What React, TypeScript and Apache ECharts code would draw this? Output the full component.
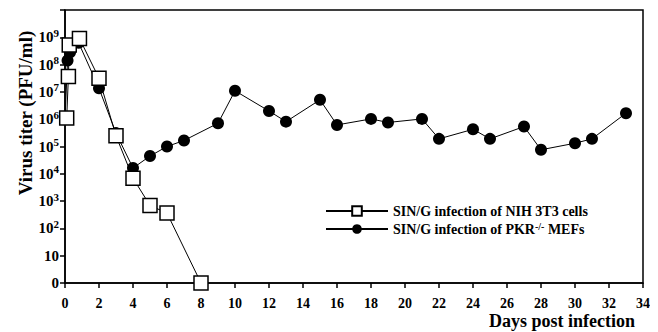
import React, { useEffect, useRef } from "react";
import * as echarts from "echarts";

// Days post infection and log10 virus titer (PFU/ml)
const nihDays = [0.1, 0.2, 0.25, 0.85, 2, 3, 4, 5, 6, 8];
const nihLog10 = [6.04, 7.56, 8.72, 8.96, 7.5, 5.39, 3.84, 2.84, 2.56, 0];

const pkrDays = [0, 0.15, 0.3, 0.8, 2, 3, 4, 5, 6, 7, 9, 10, 12, 13, 15, 16, 18, 19, 21, 22, 24, 25, 27, 28, 30, 31, 33];
const pkrLog10 = [6.0, 8.15, 8.45, 8.8, 7.13, 5.49, 4.21, 4.65, 5.0, 5.22, 5.85, 7.04, 6.3, 5.91, 6.71, 5.79, 6.01, 5.88, 6.01, 5.28, 5.63, 5.28, 5.73, 4.88, 5.12, 5.28, 6.22];

const yTickExponents = [0, 1, 2, 3, 4, 5, 6, 7, 8, 9];
const xTicks = [0, 2, 4, 6, 8, 10, 12, 14, 16, 18, 20, 22, 24, 26, 28, 30, 32, 34];

const seriesNames = ["SIN/G infection of NIH 3T3 cells", "SIN/G infection of PKR-/- MEFs"];

const FONT = "'Liberation Serif', 'Times New Roman', serif";

export default function App() {
  const ref = useRef<HTMLDivElement>(null);
  useEffect(() => {
    if (!ref.current) return;
    const chart = echarts.init(ref.current, null, { renderer: "svg" });
    const nihData = nihDays.map((d, i) => [d, nihLog10[i]]);
    const pkrData = pkrDays.map((d, i) => [d, pkrLog10[i]]);
    chart.setOption({
      animation: false,
      backgroundColor: "#fff",
      grid: {
        left: 65,
        top: 10,
        right: 15,
        bottom: 49,
        show: true,
        borderColor: "#000",
        borderWidth: 1.5,
        backgroundColor: "transparent",
      },
      xAxis: {
        type: "value",
        min: 0,
        max: 34,
        interval: 2,
        axisLine: { show: true, lineStyle: { color: "#000", width: 1.5 } },
        axisTick: { show: true, length: 5, lineStyle: { color: "#000", width: 1.5 } },
        splitLine: { show: false },
        axisLabel: {
          color: "#000",
          fontFamily: FONT,
          fontWeight: "bold",
          fontSize: 14,
          margin: 13,
          formatter: (v: number) => (xTicks.includes(v) ? String(v) : ""),
        },
      },
      yAxis: {
        type: "value",
        min: 0,
        max: 10,
        interval: 1,
        axisLine: { show: true, lineStyle: { color: "#000", width: 1.5 } },
        axisTick: { show: true, length: 5, lineStyle: { color: "#000", width: 1.5 } },
        splitLine: { show: false },
        axisLabel: {
          color: "#000",
          fontFamily: FONT,
          fontWeight: "bold",
          fontSize: 15,
          margin: 6,
          formatter: (v: number) => {
            if (!yTickExponents.includes(v)) return "";
            if (v === 0) return "{b|0}";
            if (v === 1) return "{b|10}";
            return "{b|10}{s|" + v + "}";
          },
          rich: {
            b: { fontFamily: FONT, fontWeight: "bold", fontSize: 15, color: "#000" },
            s: {
              fontFamily: FONT,
              fontWeight: "bold",
              fontSize: 11,
              color: "#000",
              verticalAlign: "bottom",
              padding: [0, 0, 9, 0],
            },
          },
        },
      },
      legend: {
        orient: "vertical",
        left: 320,
        top: 199,
        itemWidth: 62,
        itemHeight: 12,
        itemGap: 3,
        data: seriesNames,
        textStyle: {
          color: "#000",
          fontFamily: FONT,
          fontWeight: "bold",
          fontSize: 14,
          rich: {
            n: { fontFamily: FONT, fontWeight: "bold", fontSize: 14, color: "#000" },
            s: {
              fontFamily: FONT,
              fontWeight: "bold",
              fontSize: 10,
              color: "#000",
              verticalAlign: "bottom",
              padding: [0, 0, 6, 0],
            },
          },
        },
        formatter: (name: string) => {
          if (name === seriesNames[1]) return "{n|SIN/G infection of PKR}{s|-/-}{n| MEFs}";
          return "{n|" + name + "}";
        },
      },
      graphic: [
        {
          type: "text",
          x: 25,
          y: 113,
          rotation: Math.PI / 2,
          style: {
            text: "Virus titer (PFU/ml)",
            fontFamily: FONT,
            fontWeight: "bold",
            fontSize: 19,
            fill: "#000",
            align: "center",
            verticalAlign: "middle",
          },
        },
        {
          type: "text",
          right: 23,
          top: 312,
          style: {
            text: "Days post infection",
            fontFamily: FONT,
            fontWeight: "bold",
            fontSize: 18,
            fill: "#000",
          },
        },
      ],
      series: [
        {
          name: seriesNames[1],
          type: "line",
          data: pkrData,
          symbol: "circle",
          symbolSize: 12,
          z: 2,
          lineStyle: { color: "#000", width: 1 },
          itemStyle: { color: "#000", borderColor: "#000", borderWidth: 0 },
        },
        {
          name: seriesNames[0],
          type: "line",
          data: nihData,
          symbol: "rect",
          symbolSize: 14,
          z: 3,
          lineStyle: { color: "#000", width: 1 },
          itemStyle: { color: "#fff", borderColor: "#000", borderWidth: 1.5 },
        },
      ],
    });
    return () => chart.dispose();
  }, []);
  return <div ref={ref} style={{ width: 658, height: 332, marginLeft: -8, marginTop: -8 }} />;
}
